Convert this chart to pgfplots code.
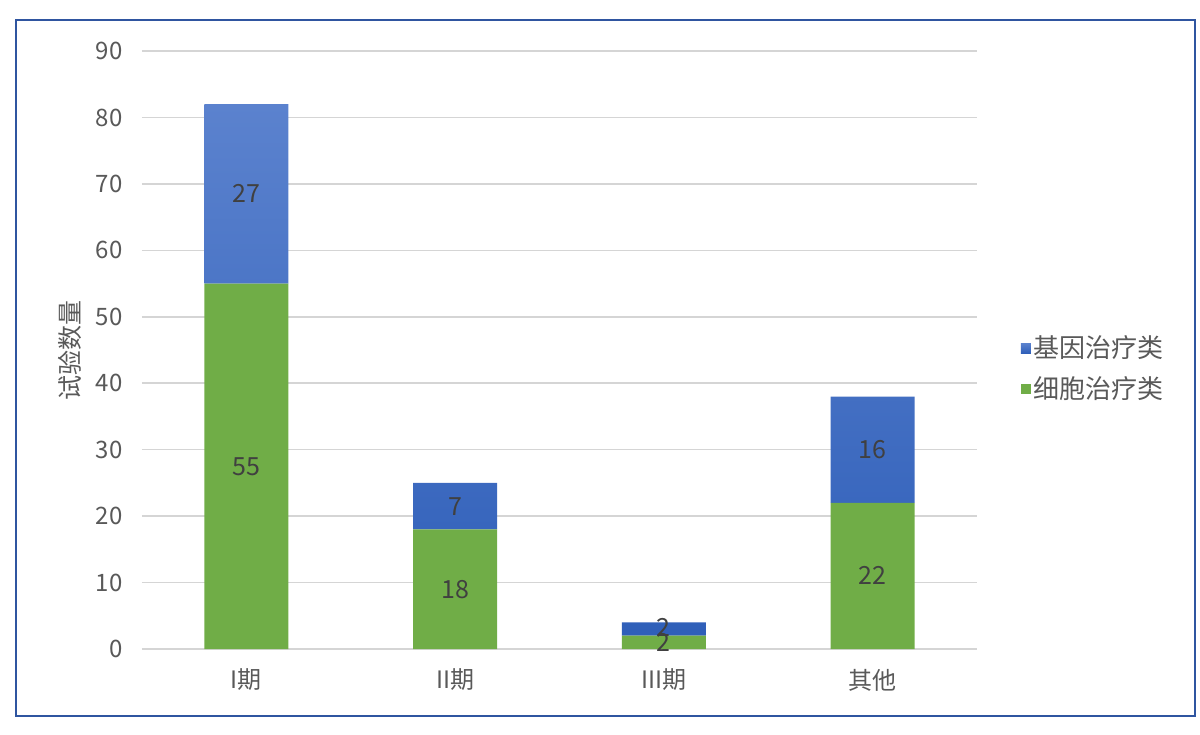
\documentclass[border=0pt]{standalone}
\usepackage{pgfplots}
\pgfplotsset{compat=1.18}
\usepackage{fontspec}
\setmainfont{Noto Sans CJK SC}
\definecolor{gridc}{HTML}{D5D5D5}
\definecolor{tickc}{HTML}{595959}
\definecolor{labc}{HTML}{404040}
\definecolor{greenc}{HTML}{70AD47}
\definecolor{bluetop}{HTML}{5B82CE}
\definecolor{bluebot}{HTML}{2F5FB9}
\definecolor{bluel}{HTML}{4472C4}
\definecolor{borderc}{HTML}{2F55A0}
\begin{document}
\begin{tikzpicture}
\useasboundingbox (-71pt,-42.5pt) rectangle (529pt,324.5pt);
\draw[borderc, line width=1pt] (-63pt,-33.5pt) rectangle (526.5pt,314.5pt);
\begin{axis}[
  scale only axis, width=417.5pt, height=299pt,
  ybar stacked, bar width=42pt,
  xmin=-0.5, xmax=3.5, ymin=0, ymax=90,
  xtick={0,1,2,3}, xticklabels={I期,II期,III期,其他},
  ytick={0,10,...,90},
  axis line style={draw=none},
  major tick length=0pt,
  ymajorgrids, grid style={gridc, line width=0.75pt},
  tick label style={font=\fontsize{12}{14}\selectfont, text=tickc},
  /pgf/number format/assume math mode=true,
  yticklabel style={anchor=east, inner sep=0pt, xshift=-9.5pt},
  xticklabel style={anchor=center, inner sep=0pt, yshift=-15.5pt},
  ylabel={试验数量},
  every axis y label/.style={at={(axis description cs:-0.0862,0.5)}, anchor=center, rotate=90, font=\fontsize{12.5}{14}\selectfont, text=tickc},
  legend style={at={(rel axis cs:1.045,0.469)}, anchor=west, draw=none, fill=none,
    font=\fontsize{13}{15}\selectfont, text=tickc, row sep=5pt,
    nodes={inner sep=1.5pt}},
  legend cell align=left,
  reverse legend,
]
\addplot[fill=greenc, draw=none,
  legend image code/.code={\fill[greenc] (0pt,-2.5pt) rectangle (5pt,2.5pt);}]
  coordinates {(0,55) (1,18) (2,2) (3,22)};
\addlegendentry{细胞治疗类}
\addplot[draw=none, top color=bluetop, bottom color=bluebot,
  legend image code/.code={\fill[bluel] (0pt,-2.5pt) rectangle (5pt,2.5pt);}]
  coordinates {(0,27) (1,7) (2,2) (3,16)};
\addlegendentry{基因治疗类}
\end{axis}
\begin{axis}[
  scale only axis, width=417.5pt, height=299pt,
  xmin=-0.5, xmax=3.5, ymin=0, ymax=90,
  hide axis,
]
\addplot[draw=none, mark=none, nodes near coords, point meta=explicit symbolic,
  every node near coord/.style={anchor=center, font=\fontsize{12.5}{15}\selectfont, text=labc}]
  coordinates {(0,27.5)[55] (1,9)[18] (2,1)[2] (3,11)[22]
               (0,68.5)[27] (1,21.5)[7] (2,3.2)[2] (3,30)[16]};
\end{axis}
\end{tikzpicture}
\end{document}
